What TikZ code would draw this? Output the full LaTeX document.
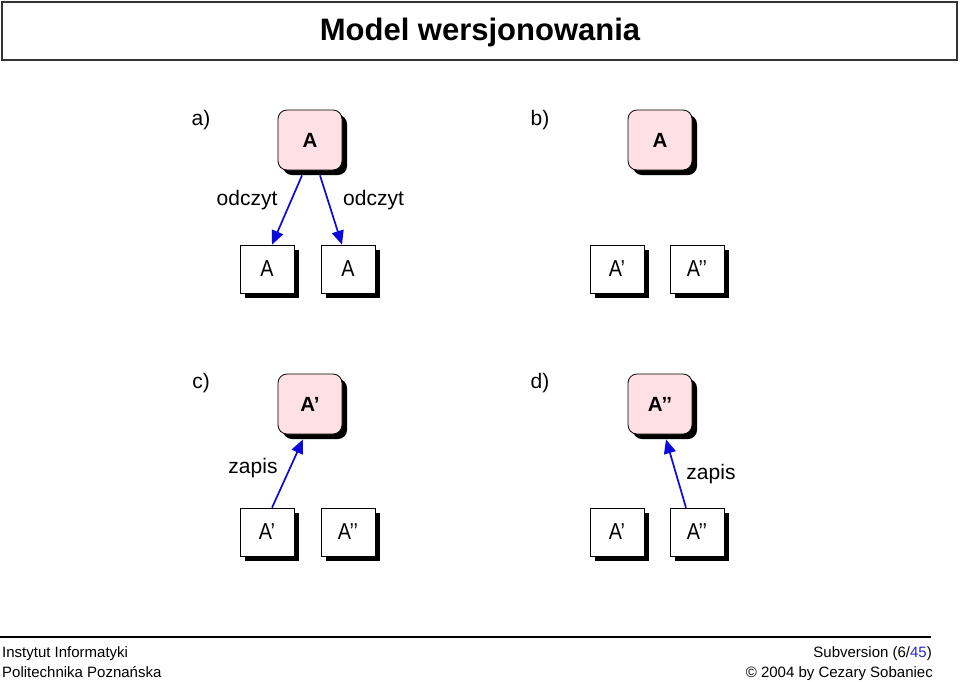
\documentclass[tikz,border=0pt]{standalone}
\usepackage{fontspec}
\usepackage{graphicx}
\setmainfont{Liberation Sans}
\usetikzlibrary{arrows.meta,shadows}
\definecolor{pinkfill}{RGB}{255,224,228}
\definecolor{arrblue}{RGB}{10,10,220}
\definecolor{linkblue}{RGB}{40,40,200}
\newcommand{\boxtxt}[1]{\scalebox{0.86}[1]{#1}}
\tikzset{
  pinkbox/.style={draw=black, line width=0.8pt, fill=pinkfill, rounded corners=9pt,
    minimum width=64pt, minimum height=60pt, inner sep=0pt,
    font=\fontsize{20.5}{24}\selectfont\bfseries,
    drop shadow={shadow xshift=5pt, shadow yshift=-5pt, fill=black, opacity=1}},
  whitebox/.style={draw=black, line width=0.6pt, fill=white,
    minimum width=54pt, minimum height=48pt, inner sep=0pt,
    font=\fontsize{23}{26}\selectfont,
    drop shadow={shadow xshift=5pt, shadow yshift=-5pt, fill=black, opacity=1}},
  lab/.style={font=\fontsize{21}{24}\selectfont, inner sep=0pt},
  foot/.style={font=\fontsize{15}{18}\selectfont, inner sep=0pt},
  arr/.style={draw=arrblue, line width=1.7pt, -{Triangle[length=14pt,width=12pt]}},
}
\begin{document}
\begin{tikzpicture}[x=1pt,y=-1pt]
\useasboundingbox (0,0) rectangle (960,681);
\fill[white] (0,0) rectangle (960,681);
% title
\node[draw=black!80, line width=1.6pt, minimum width=955pt, minimum height=58pt, inner sep=0pt] (titlebox) at (479.5,31) {};
\node[anchor=base, font=\fontsize{31}{34}\selectfont\bfseries, inner sep=0pt] (title) at (480,40) {Model wersjonowania};
% labels
\node[lab] (la) at (201,120) {a)};
\node[lab] (lb) at (540,120) {b)};
\node[lab] (lc) at (201,383) {c)};
\node[lab] (ld) at (540,383) {d)};
% a)
\node[pinkbox] (pa) at (310,140) {A};
\node[whitebox] (a1) at (267,269) {\boxtxt{A}};
\node[whitebox] (a2) at (348,269) {\boxtxt{A}};
\draw[arr] ([xshift=-8pt,yshift=-5pt]pa.south) -- ([xshift=5pt]a1.north);
\draw[arr] ([xshift=10pt,yshift=-5pt]pa.south) -- ([xshift=-6pt]a2.north);
\node[lab] (o1) at (247,200) {odczyt};
\node[lab] (o2) at (373.5,200) {odczyt};
% b)
\node[pinkbox] (pb) at (660,140) {A};
\node[whitebox] (b1) at (617,269) {\boxtxt{A’}};
\node[whitebox] (b2) at (697,269) {\boxtxt{A’’}};
% c)
\node[pinkbox] (pc) at (310,404) {A’};
\node[whitebox] (c1) at (267,532) {\boxtxt{A’}};
\node[whitebox] (c2) at (348,532) {\boxtxt{A’’}};
\draw[arr] ([xshift=5pt]c1.north) -- ([xshift=-7pt,yshift=-5pt]pc.south);
\node[lab] (z1) at (253,468) {zapis};
% d)
\node[pinkbox] (pd) at (660,404) {A’’};
\node[whitebox] (d1) at (617,532) {\boxtxt{A’}};
\node[whitebox] (d2) at (697,532) {\boxtxt{A’’}};
\draw[arr] ([xshift=-11pt]d2.north) -- ([xshift=6pt,yshift=-5pt]pd.south);
\node[lab] (z2) at (711,474) {zapis};
% footer
\coordinate (fl) at (0,637);
\coordinate (fr) at (931,637);
\draw[line width=1.4pt] (fl) -- (fr);
\node[foot, anchor=base west] (f1) at (2,657) {Instytut Informatyki};
\node[foot, anchor=base west] (f2) at (2,677) {Politechnika Poznańska};
\node[foot, anchor=base east] (f3) at (932,657) {Subversion (6/\textcolor{linkblue}{45})};
\node[foot, anchor=base east] (f4) at (933,677) {© 2004 by Cezary Sobaniec};
\end{tikzpicture}
\end{document}
